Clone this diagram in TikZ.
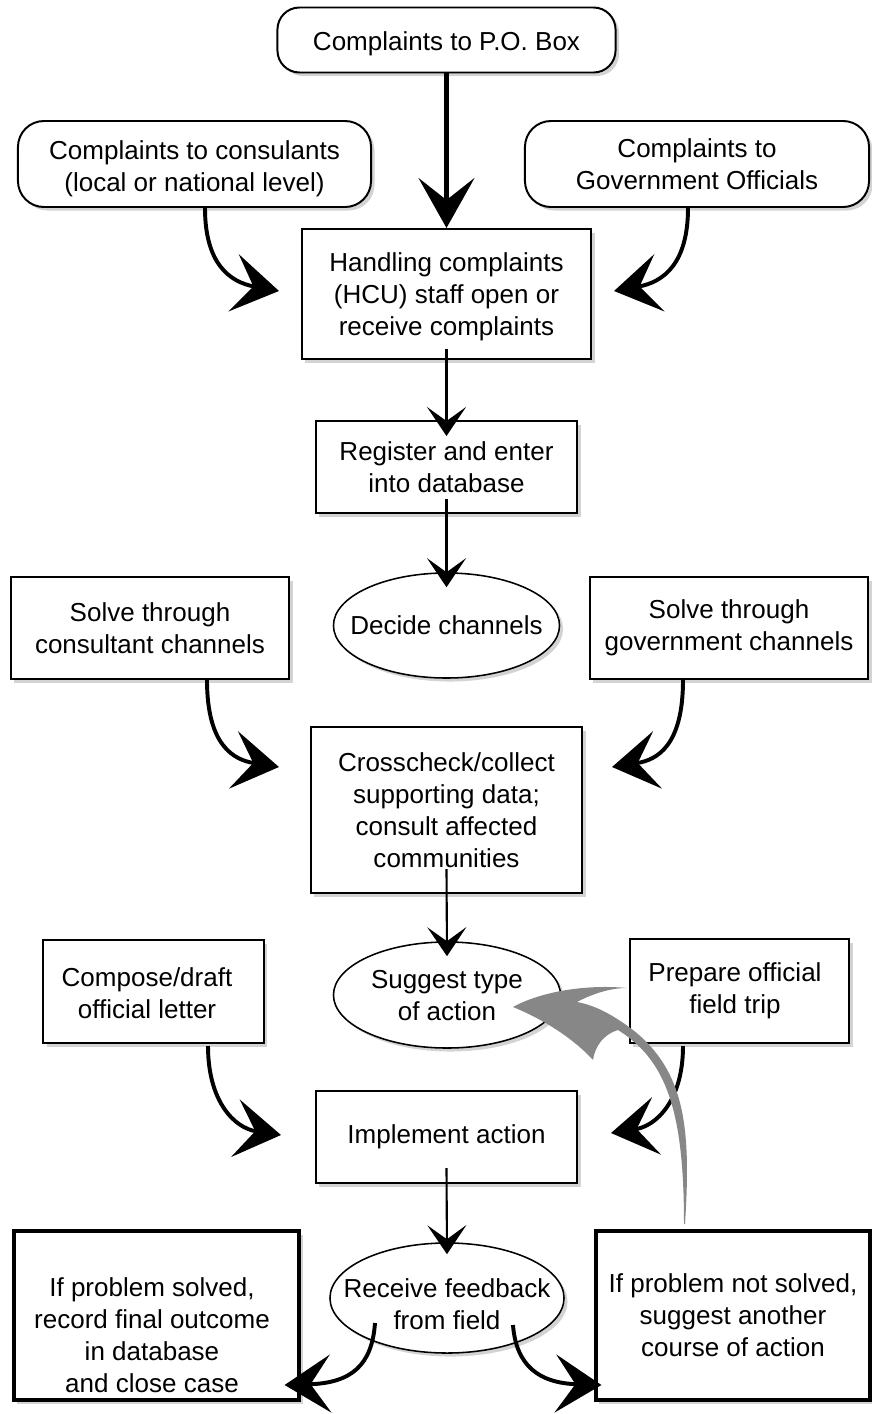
\documentclass[tikz,border=0pt]{standalone}
\usepackage{fontspec}
\setmainfont{Liberation Sans}
\usetikzlibrary{shapes.geometric,arrows.meta,shadows,calc}
\definecolor{arrowgray}{RGB}{135,135,135}
\begin{document}
\begin{tikzpicture}[x=0.025cm,y=-0.025cm,
  every node/.style={font={\fontsize{18.5pt}{22.8pt}\selectfont}, align=center},
  shad/.style={drop shadow={shadow xshift=2.5pt, shadow yshift=-2.5pt, opacity=0.35}},
  rbox/.style={draw, line width=1.4pt, rounded corners=0.55cm, fill=white, shad, inner sep=0pt},
  sbox/.style={draw, line width=1.4pt, fill=white, shad, inner sep=0pt},
  tbox/.style={draw, line width=2.2pt, fill=white, shad, inner sep=0pt},
  oval/.style={draw, ellipse, line width=1.1pt, fill=white, shad, inner sep=0pt},
  txt/.style={inner sep=0pt},
  thinarrow/.style={line width=1.5pt, -{Stealth[length=0.725cm, width=0.975cm, inset=0.35cm]}},
  bigarrow/.style={line width=3.2pt, -{Stealth[length=1.25cm, width=1.4cm, inset=0.55cm]}},
  curvearrow/.style={line width=2.8pt, -{Stealth[length=1.15cm, width=1.45cm, inset=0.5cm]}},
]
\useasboundingbox (0,0) rectangle (872,1414);

% nodes
\node[rbox, minimum width=8.45cm, minimum height=1.625cm] (po) at (446.5,40) {};
\node[txt] (pot) at (446.5,44) {Complaints to P.O. Box};
\node[rbox, rounded corners=0.65cm, minimum width=8.825cm, minimum height=2.15cm] (cons) at (194.5,164) {};
\node[txt] (const) at (194.5,169) {Complaints to consulants\\(local or national level)};
\node[rbox, rounded corners=0.65cm, minimum width=8.6cm, minimum height=2.15cm] (gov) at (697,164) {Complaints to\\Government Officials};
\node[sbox, minimum width=7.225cm, minimum height=3.25cm] (handle) at (446.5,294) {};
\node[txt] (handlet) at (446.5,297) {Handling complaints\\(HCU) staff open or\\receive complaints};
\node[sbox, minimum width=6.525cm, minimum height=2.3cm] (reg) at (446.5,467) {Register and enter\\into database};
\node[oval, minimum width=5.65cm, minimum height=2.625cm] (decide) at (446.5,625.5) {};
\node[txt] (decidet) at (446.5,625) {Decide channels};
\node[sbox, minimum width=6.95cm, minimum height=2.55cm] (conch) at (150,628) {Solve through\\consultant channels};
\node[sbox, minimum width=6.95cm, minimum height=2.55cm] (govch) at (729,628) {Solve through\\government channels};
\node[sbox, minimum width=6.775cm, minimum height=4.15cm] (cross) at (446.5,810) {Crosscheck/collect\\supporting data;\\consult affected\\communities};
\node[oval, minimum width=5.675cm, minimum height=2.65cm] (suggest) at (447,995) {};
\node[txt] (suggestt) at (447,996) {Suggest type\\of action};
\node[sbox, minimum width=5.5cm, minimum height=2.575cm] (compose) at (153.5,991.5) {};
\node[txt] (composet) at (147,993) {Compose/draft\\official letter};
\node[sbox, minimum width=5.475cm, minimum height=2.6cm] (trip) at (739.5,991) {};
\node[txt] (tript) at (735,991) {Prepare official\\field trip};
\node[sbox, minimum width=6.525cm, minimum height=2.3cm] (impl) at (446.5,1137) {Implement action};
\node[oval, minimum width=5.85cm, minimum height=2.75cm] (recv) at (447,1298) {};
\node[txt] (recvt) at (447,1304) {Receive feedback\\from field};
\node[tbox, minimum width=7.125cm, minimum height=4.225cm] (solved) at (156.5,1315.5) {};
\node[txt] (solvedt) at (152,1335) {If problem solved,\\record final outcome\\in database\\and close case};
\node[tbox, minimum width=6.85cm, minimum height=4.225cm] (unsolved) at (733,1315.5) {If problem not solved,\\suggest another\\course of action};

% straight arrows
\draw[bigarrow] (po.south) -- (handle.north);
\draw[thinarrow] ($(handle.south)+(0,-11)$) -- ($(reg.north)+(0,16)$);
\draw[thinarrow] ($(reg.south)+(0,-15)$) -- ($(decide.north)+(0,15)$);
\draw[thinarrow] ($(cross.south)+(0,-25)$) -- ($(suggest.north)+(0,15)$);
\draw[thinarrow] ($(impl.south)+(0,-16)$) -- ($(recv.north)+(0,12)$);

% curved arrows
\draw[curvearrow] ($(cons.south)+(10.5,0)$) .. controls ($(cons.south)+(10.5,55)$) and ($(handle.west)+(-72,-12)$) .. ($(handle.west)+(-22,-3)$);
\draw[curvearrow] ($(gov.south)+(-9,0)$) .. controls ($(gov.south)+(-9,55)$) and ($(handle.east)+(72,-12)$) .. ($(handle.east)+(22,-3)$);
\draw[curvearrow] ($(conch.south)+(57,0)$) .. controls ($(conch.south)+(57,66)$) and ($(cross.west)+(-76,-50)$) .. ($(cross.west)+(-31,-43)$);
\draw[curvearrow] ($(govch.south)+(-46,0)$) .. controls ($(govch.south)+(-46,66)$) and ($(cross.east)+(74,-50)$) .. ($(cross.east)+(29,-43)$);
\draw[curvearrow] ($(compose.south)+(54.5,2)$) .. controls ($(compose.south)+(54.5,57)$) and ($(impl.west)+(-81,-9)$) .. ($(impl.west)+(-34,-2)$);
\draw[curvearrow] ($(trip.south)+(-56.5,2)$) .. controls ($(trip.south)+(-56.5,57)$) and ($(impl.east)+(78,-11)$) .. ($(impl.east)+(33,-4)$);
\draw[curvearrow] ($(recv.center)+(-72,25)$) .. controls ($(recv.center)+(-75,67)$) and ($(solved.east)+(51,67.5)$) .. ($(solved.east)+(-16,69.5)$);
\draw[curvearrow] ($(recv.center)+(66,27)$) .. controls ($(recv.center)+(69,67)$) and ($(unsolved.west)+(-56,67.5)$) .. ($(unsolved.west)+(7,69.5)$);

% gray feedback arrow
\fill[arrowgray] (685,1224)
  .. controls (691,1130) and (686,1072) .. (633,1030)
  .. controls (612,1014) and (594,1005) .. (577,1002)
  .. controls (592,994) and (610,988) .. (627,988)
  .. controls (585,984) and (540,992) .. (513,1007)
  .. controls (545,1020) and (575,1040) .. (593,1060)
  .. controls (595,1046) and (604,1034) .. (618,1030)
  .. controls (666,1060) and (684,1110) .. (684,1224) -- cycle;
\end{tikzpicture}
\end{document}
